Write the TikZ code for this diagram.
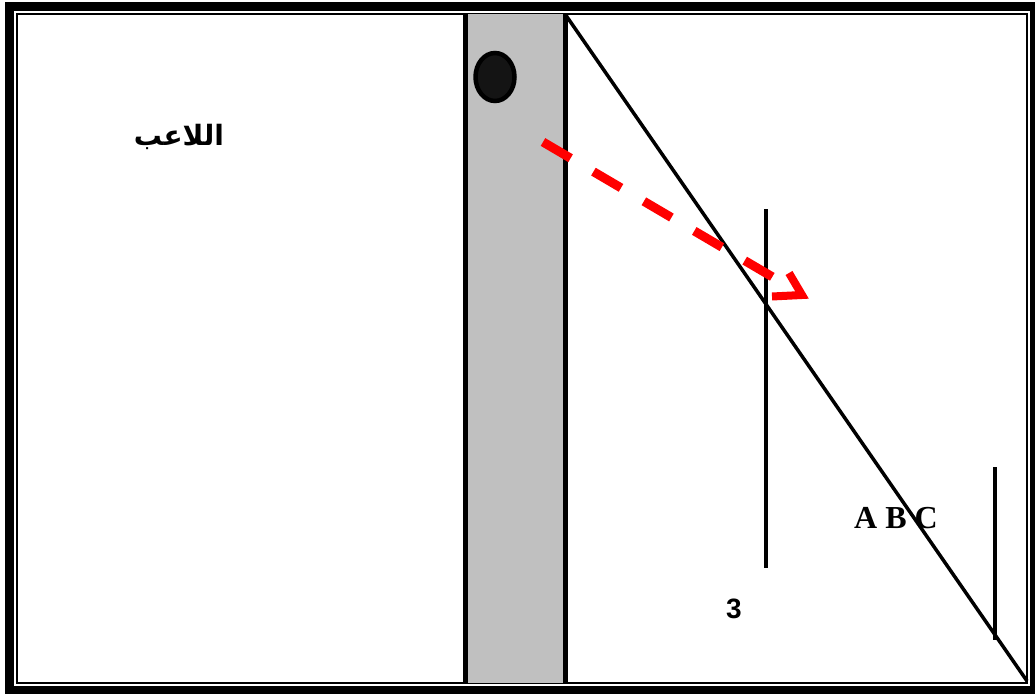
\documentclass[tikz,border=0pt]{standalone}
\usepackage{fontspec}
\setmainfont{Liberation Serif}
\newfontfamily\arabicfont[Script=Arabic]{DejaVu Sans}
\newfontfamily\digitfont{Liberation Sans}
\TeXXeTstate=1
\definecolor{strip}{HTML}{C0C0C0}
\definecolor{ball}{HTML}{141414}

\begin{document}
\begin{tikzpicture}[x=1pt, y=-1pt]
\def\stripL{465.5}
\def\stripR{565}
\def\innerT{14}
\def\innerB{683}

\useasboundingbox (0,0) rectangle (1035,693);

%frame
\draw[line width=9pt] (9.5,6.5) rectangle (1034,690.5);
\draw[line width=2pt] (17,\innerT) rectangle (1027,\innerB);

%grey strip
\path (\stripL,\innerT) coordinate (P);
\path (\stripR,\innerB) coordinate (Q);
\fill[strip] (P) rectangle (Q);
\draw[line width=5pt] (\stripL,\innerT) -- (\stripL,\innerB);
\draw[line width=5pt] (\stripR,\innerT) -- (\stripR,\innerB);

%ball
\draw[line width=4.5pt, fill=ball] (495,77) ellipse [x radius = 19.5, y radius = 24];

%diagonal and posts
\path (\stripR,\innerT) coordinate (A);
\path (1027,681) coordinate (B);
\draw[line width=3.5pt] (A) -- (B);
\path (765.5,209) coordinate (K);
\path (765.5,568) coordinate (L);
\draw[line width=4pt] (K) -- (L);
\path (994.5,467) coordinate (M);
\path (994.5,640) coordinate (N);
\draw[line width=4pt] (M) -- (N);

%ball path
\path (543,142) coordinate (S);
\path (776,279) coordinate (E);
\draw[red, line width=9pt, dash pattern=on 32pt off 26.5pt] (S) -- (E);
\path (789,273) coordinate (H1);
\path (802,295) coordinate (T);
\path (772,296.5) coordinate (H2);
\draw[red, line width=8pt, line join=miter] (H1) -- (T) -- (H2);

%labels
\node (player) at (179,137) {\arabicfont\bfseries\fontsize{28}{32}\selectfont\beginR اللاعب\endR};
\node (abc) at (896,518) {\bfseries\fontsize{32}{36}\selectfont A B C};
\node (three) at (734,609) {\digitfont\bfseries\fontsize{28}{32}\selectfont 3};

\end{tikzpicture}
\end{document}
